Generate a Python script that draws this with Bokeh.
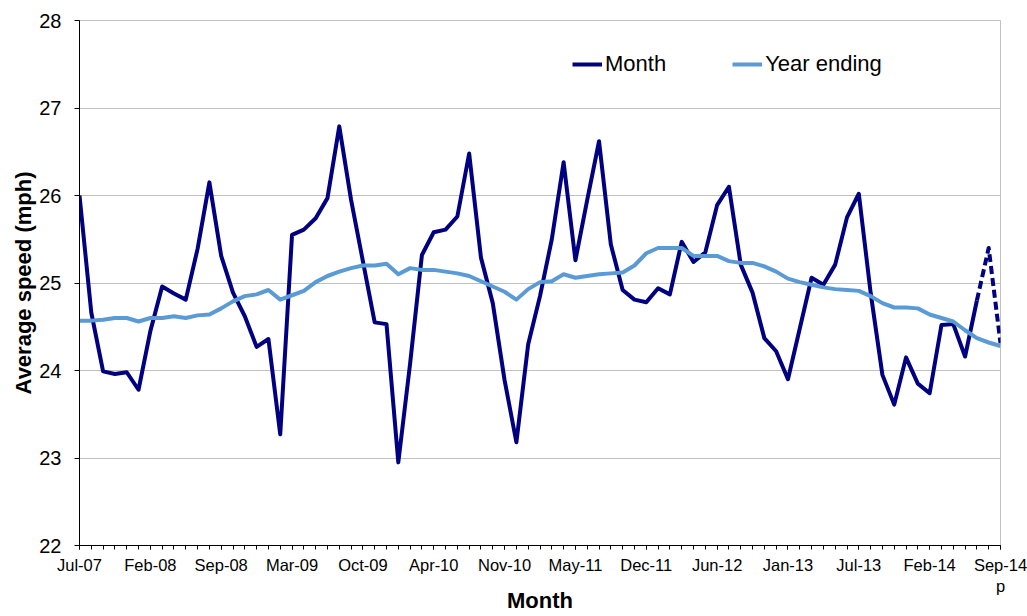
from bokeh.plotting import figure
from bokeh.models import FixedTicker, Legend, LegendItem, ColumnDataSource, Range1d
from bokeh.embed import file_html
from bokeh.resources import INLINE

# ---- data ----
tick_labels = ["Jul-07", "Feb-08", "Sep-08", "Mar-09", "Oct-09", "Apr-10", "Nov-10",
               "May-11", "Dec-11", "Jun-12", "Jan-13", "Jul-13", "Feb-14", "Sep-14\np"]
label_every = 6

month = [26.00, 24.66, 23.99, 23.96, 23.98, 23.78, 24.45, 24.96, 24.88, 24.81,
         25.39, 26.15, 25.31, 24.89, 24.62, 24.27, 24.36, 23.27, 25.55, 25.61,
         25.74, 25.97, 26.79, 25.95, 25.25, 24.55, 24.53, 22.95, 24.08, 25.32,
         25.58, 25.61, 25.76, 26.48, 25.29, 24.77, 23.89, 23.18, 24.30, 24.85,
         25.50, 26.38, 25.26, 25.95, 26.62, 25.44, 24.92, 24.81, 24.78, 24.94,
         24.87, 25.47, 25.24, 25.35, 25.89, 26.10, 25.21, 24.89, 24.37, 24.22,
         23.90, 24.48, 25.06, 24.98, 25.21, 25.75, 26.02, 24.89, 23.95, 23.61,
         24.15, 23.85, 23.74, 24.52, 24.53, 24.16, 24.80, 25.40, 24.31]

year_ending = [24.57, 24.57, 24.58, 24.60, 24.60, 24.56, 24.60, 24.60, 24.62, 24.60,
               24.63, 24.64, 24.71, 24.79, 24.85, 24.87, 24.92, 24.81, 24.86, 24.91,
               25.01, 25.08, 25.13, 25.17, 25.20, 25.20, 25.22, 25.10, 25.17, 25.15,
               25.15, 25.13, 25.11, 25.08, 25.02, 24.96, 24.90, 24.81, 24.93, 25.01,
               25.02, 25.10, 25.06, 25.08, 25.10, 25.11, 25.12, 25.20, 25.34, 25.40,
               25.40, 25.40, 25.31, 25.31, 25.31, 25.25, 25.23, 25.23, 25.19, 25.13,
               25.05, 25.01, 24.98, 24.95, 24.93, 24.92, 24.91, 24.85, 24.77, 24.72,
               24.72, 24.71, 24.64, 24.60, 24.56, 24.46, 24.37, 24.32, 24.28]

provisional_start = 76  # month values from this index on are provisional (dashed)

y_ticks = [22, 23, 24, 25, 26, 27, 28]

# ---- build ----
n = len(month)
x = list(range(n))
FONT = "Liberation Sans"
NAVY = "#000080"
LIGHT = "#5B9BD5"

p = figure(width=1027, height=616, output_backend="svg", toolbar_location=None,
           x_range=Range1d(0, n - 1), y_range=Range1d(22, 28),
           min_border_left=79, min_border_right=27, min_border_top=20, min_border_bottom=71)

src_solid = ColumnDataSource(dict(x=x[:provisional_start + 1], y=month[:provisional_start + 1]))
src_prov = ColumnDataSource(dict(x=x[provisional_start:], y=month[provisional_start:]))
src_year = ColumnDataSource(dict(x=x, y=year_ending))

r_month = p.line("x", "y", source=src_solid, line_color=NAVY, line_width=4, line_join="round")
p.line("x", "y", source=src_prov, line_color=NAVY, line_width=4, line_dash="8 4", line_join="round")
r_year = p.line("x", "y", source=src_year, line_color=LIGHT, line_width=4, line_join="round")

# axes
major = [i * label_every for i in range(len(tick_labels))]
p.xaxis.ticker = FixedTicker(ticks=major, minor_ticks=x)
p.xaxis.major_label_overrides = {t: lab for t, lab in zip(major, tick_labels)}
p.xaxis.major_tick_out = 4
p.xaxis.major_tick_in = 0
p.xaxis.minor_tick_out = 4
p.xaxis.minor_tick_in = 0
p.xaxis.major_label_standoff = 6
p.xaxis.axis_label = "Month"
p.xaxis.axis_label_standoff = -10
p.xaxis.axis_label_text_align = "right"

p.yaxis.ticker = FixedTicker(ticks=y_ticks)
p.yaxis.major_tick_out = 5
p.yaxis.major_tick_in = 0
p.yaxis.minor_tick_out = 0
p.yaxis.minor_tick_in = 0
p.yaxis.major_label_standoff = 13
p.yaxis.axis_label = "Average speed (mph)"
p.yaxis.axis_label_standoff = 0

for ax in (p.xaxis[0], p.yaxis[0]):
    ax.axis_line_color = "black"
    ax.major_tick_line_color = "black"
    ax.minor_tick_line_color = "black"
    ax.major_label_text_color = "black"
    ax.major_label_text_font = FONT
    ax.axis_label_text_font = FONT
    ax.axis_label_text_font_style = "bold"
    ax.axis_label_text_color = "black"
    ax.axis_label_text_font_size = "22px"

p.xaxis.major_label_text_font_size = "16.5px"
p.yaxis.major_label_text_font_size = "20px"

p.xgrid.grid_line_color = None
p.ygrid.grid_line_color = "#C0C0C0"
p.ygrid.grid_line_width = 1
p.outline_line_color = "#C0C0C0"
p.background_fill_color = "white"
p.border_fill_color = "white"

legend = Legend(items=[LegendItem(label="Month", renderers=[r_month]),
                       LegendItem(label="Year ending", renderers=[r_year])],
                orientation="horizontal", location=(493, 468),
                border_line_color=None, background_fill_alpha=0,
                label_text_font=FONT, label_text_font_size="22px", label_text_color="black",
                glyph_width=30, label_standoff=3, spacing=66, padding=0, margin=0)
p.add_layout(legend)

open("out.html", "w").write(file_html(p, INLINE))
